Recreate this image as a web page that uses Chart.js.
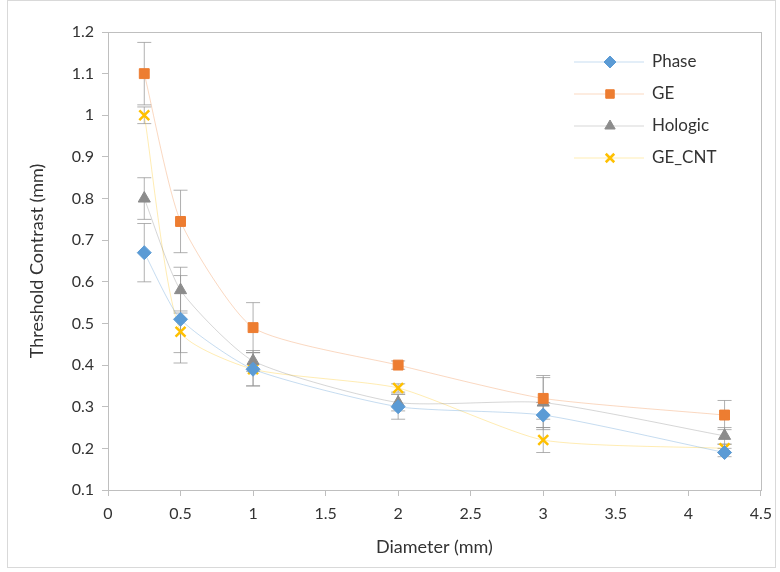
<!DOCTYPE html>
<html>
<head>
<meta charset="utf-8">
<script src="https://cdn.jsdelivr.net/npm/chart.js@4.4.1/dist/chart.umd.min.js"></script>
<style>
  html, body { margin: 0; padding: 0; background: #fff; }
  #wrap { width: 780px; height: 572px; position: relative; }
</style>
</head>
<body>
<div id="wrap"><canvas id="grafico" width="780" height="572"></canvas></div>
<script>
// diametros (mm)
const diametros = [0.25, 0.5, 1, 2, 3, 4.25];

const phase   = [0.67, 0.51, 0.39, 0.30, 0.28, 0.19];
const ge      = [1.10, 0.745, 0.49, 0.40, 0.32, 0.28];
const hologic = [0.80, 0.58, 0.41, 0.31, 0.31, 0.23];
const geCnt   = [1.00, 0.48, 0.39, 0.345, 0.22, 0.20];

// barras de error (+/-)
const errPhase   = [0.07, 0.105, 0.04, 0.03, 0.03, 0.01];
const errGe      = [0.075, 0.075, 0.06, 0.01, 0.05, 0.035];
const errHologic = [0.05, 0.055, 0.025, 0.02, 0.065, 0.02];
const errGeCnt   = [0.02, 0.05, 0.04, 0.01, 0.03, 0.01];

const xTicks = [0, 0.5, 1, 1.5, 2, 2.5, 3, 3.5, 4, 4.5];

const fuente = "Lato, 'Open Sans', sans-serif";

function puntos(valores) {
    return diametros.map((d, i) => ({ x: d, y: valores[i] }));
}

const barrasError = {
    id: "barrasError",
    beforeDatasetsDraw(chart) {
        const ctx = chart.ctx;
        const xs = chart.scales.x;
        const ys = chart.scales.y;
        ctx.save();
        ctx.strokeStyle = "rgba(150,150,150,0.75)";
        ctx.lineWidth = 1;
        chart.data.datasets.forEach((ds) => {
            ds.errores.forEach((e, i) => {
                const px = xs.getPixelForValue(diametros[i]);
                const top = ys.getPixelForValue(ds.data[i].y + e);
                const bot = ys.getPixelForValue(ds.data[i].y - e);
                ctx.beginPath();
                ctx.moveTo(px, top); ctx.lineTo(px, bot);
                ctx.moveTo(px - 7, top); ctx.lineTo(px + 7, top);
                ctx.moveTo(px - 7, bot); ctx.lineTo(px + 7, bot);
                ctx.stroke();
            });
        });
        ctx.restore();
    },
};

const marco = {
    id: "marco",
    afterDraw(chart) {
        const ctx = chart.ctx;
        const a = chart.chartArea;
        ctx.save();
        ctx.strokeStyle = "#bfbfbf";
        ctx.lineWidth = 1;
        ctx.strokeRect(Math.round(a.left) + 0.5, Math.round(a.top) + 0.5, Math.round(a.right - a.left), Math.round(a.bottom - a.top));
        // borde exterior
        ctx.strokeStyle = "#d9d9d9";
        ctx.strokeRect(7.5, 0.5, 768, 567);
        ctx.restore();
    },
};

const leyenda = {
    id: "leyenda",
    afterDraw(chart) {
        const ctx = chart.ctx;
        const a = chart.chartArea;
        const x0 = a.left + 466;
        let y = a.top + 30;
        ctx.save();
        ctx.font = "17px " + fuente;
        ctx.textBaseline = "middle";
        chart.data.datasets.forEach((ds) => {
            ctx.strokeStyle = ds.borderColor;
            ctx.lineWidth = 1;
            ctx.beginPath();
            ctx.moveTo(x0, y); ctx.lineTo(x0 + 70, y);
            ctx.stroke();
            ctx.fillStyle = ds.pointBackgroundColor;
            ctx.strokeStyle = ds.pointBorderColor;
            ctx.lineWidth = ds.pointBorderWidth;
            Chart.helpers.drawPoint(ctx, { pointStyle: ds.pointStyle, radius: ds.pointRadius - 1, borderWidth: ds.pointBorderWidth, rotation: 0 }, x0 + 36, y);
            ctx.fillStyle = "#333333";
            ctx.fillText(ds.label, x0 + 78, y);
            y += 32;
        });
        ctx.restore();
    },
};

const ctx = document.getElementById("grafico").getContext("2d");
new Chart(ctx, {
    type: "line",
    data: {
        datasets: [
            {
                label: "Phase",
                data: puntos(phase),
                errores: errPhase,
                borderColor: "rgba(91,155,213,0.35)",
                borderWidth: 1,
                pointStyle: "rectRot",
                pointRadius: 7,
                pointBackgroundColor: "#5B9BD5",
                pointBorderColor: "#5B9BD5",
                pointBorderWidth: 1,
                tension: 0.2,
            },
            {
                label: "GE",
                data: puntos(ge),
                errores: errGe,
                borderColor: "rgba(237,125,49,0.3)",
                borderWidth: 1,
                pointStyle: "rect",
                pointRadius: 7,
                pointBackgroundColor: "#ED7D31",
                pointBorderColor: "#ED7D31",
                pointBorderWidth: 1,
                tension: 0.2,
            },
            {
                label: "Hologic",
                data: puntos(hologic),
                errores: errHologic,
                borderColor: "rgba(120,120,120,0.3)",
                borderWidth: 1,
                pointStyle: "triangle",
                pointRadius: 7,
                pointBackgroundColor: "#8c8c8c",
                pointBorderColor: "#8c8c8c",
                pointBorderWidth: 1,
                tension: 0.2,
            },
            {
                label: "GE_CNT",
                data: puntos(geCnt),
                errores: errGeCnt,
                borderColor: "rgba(255,192,0,0.3)",
                borderWidth: 1,
                pointStyle: "crossRot",
                pointRadius: 7,
                pointBackgroundColor: "#FFC000",
                pointBorderColor: "#FFC000",
                pointBorderWidth: 2.5,
                tension: 0.2,
            },
        ],
    },
    options: {
        responsive: false,
        animation: false,
        layout: { padding: { left: 22, right: 16, top: 32, bottom: 10 } },
        plugins: {
            legend: { display: false },
            tooltip: { enabled: false },
        },
        scales: {
            x: {
                type: "linear",
                min: 0,
                max: 4.5,
                afterBuildTicks: (s) => { s.ticks = xTicks.map((v) => ({ value: v })); },
                afterFit: (s) => { s.height = 72; },
                grid: { drawOnChartArea: false, tickLength: 6, color: "#bfbfbf" },
                border: { color: "#bfbfbf" },
                ticks: {
                    color: "#333333",
                    font: { family: fuente, size: 16 },
                    padding: 8,
                    maxRotation: 0,
                    callback: (v) => String(v),
                },
                title: {
                    display: true,
                    text: "Diameter (mm)",
                    color: "#333333",
                    font: { family: fuente, size: 18 },
                    padding: { top: 4 },
                },
            },
            y: {
                min: 0.1,
                max: 1.2,
                afterFit: (s) => { s.width = 86; },
                grid: { drawOnChartArea: false, tickLength: 6, color: "#bfbfbf" },
                border: { color: "#bfbfbf" },
                ticks: {
                    stepSize: 0.1,
                    color: "#333333",
                    font: { family: fuente, size: 16 },
                    padding: 8,
                    callback: (v) => String(Math.round(v * 10) / 10),
                },
                title: {
                    display: true,
                    text: "Threshold Contrast (mm)",
                    color: "#333333",
                    font: { family: fuente, size: 18 },
                },
            },
        },
    },
    plugins: [barrasError, marco, leyenda],
});
</script>
</body>
</html>
